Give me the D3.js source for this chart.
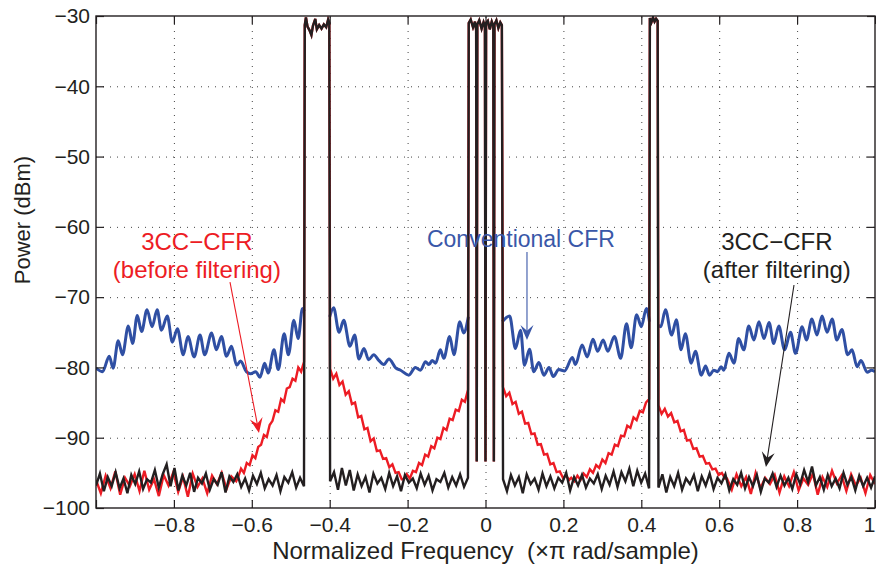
<!DOCTYPE html>
<html>
<head>
<meta charset="utf-8">
<script src="https://cdn.jsdelivr.net/npm/d3@7"></script>
<style>
body { margin: 0; background: #fff; }
svg { font-family: "Liberation Sans", Arial, sans-serif; }
</style>
</head>
<body>
<div id="chart"></div>
<script>
// axes
const xTicks = [-1, -0.8, -0.6, -0.4, -0.2, 0, 0.2, 0.4, 0.6, 0.8, 1];
const xTickLabels = ["", "−0.8", "−0.6", "−0.4", "−0.2", "0", "0.2", "0.4", "0.6", "0.8", "1"];
const yTicks = [-100, -90, -80, -70, -60, -50, -40, -30];
const yTickLabels = ["−100", "−90", "−80", "−70", "−60", "−50", "−40", "−30"];

// carriers (shared by the filtered spectra) [freq, dBm]
const carrierLeft = [[-0.464,-31.3],[-0.461,-30.2],[-0.457,-31.5],[-0.452,-32.0],[-0.447,-32.7],[-0.443,-31.4],[-0.437,-30.4],[-0.433,-31.9],[-0.427,-31.3],[-0.421,-31.8],[-0.415,-31.2],[-0.409,-31.6],[-0.404,-30.5],[-0.401,-31.0]];
const carrierCenter = [[-0.043,-31.0],[-0.038,-30.5],[-0.032,-31.6],[-0.027,-30.8],[-0.024,-32.0],[-0.0225,-93.4],[-0.021,-31.2],[-0.016,-30.6],[-0.010,-31.8],[-0.005,-30.9],[-0.0015,-31.5],[0.0,-93.4],[0.0015,-31.0],[0.006,-30.7],[0.011,-31.9],[0.016,-30.8],[0.020,-31.4],[0.0215,-93.4],[0.023,-31.2],[0.028,-30.6],[0.033,-31.7],[0.038,-30.9],[0.042,-31.3]];
const carrierRight = [[0.422,-30.3],[0.426,-30.9],[0.430,-30.2],[0.434,-30.8],[0.438,-30.4],[0.442,-30.7]];

// 3CC-CFR after filtering: noise floor pieces (evenly spaced between the given edges)
const floorA = [-96.8,-95.1,-97.6,-95.6,-96.9,-94.9,-97.2,-95.8,-97.9,-95.3,-96.6,-94.8,-97.3,-95.9,-96.4,-94.6,-97.1,-95.2,-93.8,-96.9,-94.3,-97.5,-95.4,-96.8,-95.0,-97.7,-95.7,-96.5,-95.1,-97.4,-95.9,-96.7,-94.9,-97.8,-95.5,-96.3,-95.2,-97.0,-95.8,-97.5,-95.4,-96.6,-95.0,-97.2,-95.9,-96.8,-95.3,-97.6,-95.6,-96.4,-94.9,-97.1,-95.7,-96.9];
const floorB = [-96.2,-94.9,-97.4,-94.3,-96.8,-94.6,-97.5,-95.2,-96.9,-95.6,-97.8,-95.1,-96.5,-95.7,-97.3,-95.0,-96.9,-95.5,-97.6,-95.3,-96.4,-95.8,-97.2,-95.1,-96.7,-95.4,-97.5,-95.9,-96.3,-95.0,-97.1,-95.6,-96.8,-95.2,-97.0,-95.7];
const floorC = [-95.9,-97.6,-95.3,-96.8,-95.6,-97.9,-95.2,-96.6,-95.8,-97.4,-95.1,-96.9,-95.5,-97.2,-95.7,-96.4,-95.0,-97.5,-95.6,-96.8,-95.3,-97.1,-95.8,-96.5,-95.2,-97.3,-95.4,-96.7,-94.8,-97.0,-94.9,-96.2,-94.4,-96.9,-94.7,-96.4,-95.1,-97.2];
const floorD = [-97.1,-95.2,-97.8,-95.6,-96.9,-95.0,-97.4,-95.8,-96.6,-95.3,-97.6,-95.5,-96.8,-95.1,-97.3,-95.7,-96.5,-95.2,-97.5,-95.9,-96.7,-95.0,-97.2,-95.6,-96.9,-95.3,-97.7,-95.8,-96.4,-95.1,-97.0,-95.4,-96.8,-95.7,-97.3,-95.2,-96.6,-94.6,-96.3,-94.1,-96.8,-95.6,-97.4,-95.3,-96.9,-95.8,-97.2,-95.0,-96.7,-95.6,-97.5,-95.4,-96.9,-95.7,-97.1,-95.5];

// 3CC-CFR before filtering: floor ends and regrowth skirts
const redFloorL = [-96.0,-97.9,-95.4,-97.2,-94.8,-98.1,-95.7,-96.9,-95.2,-97.6,-94.7,-97.4,-95.9,-98.3,-95.3,-96.8,-94.9,-97.7,-95.6,-98.4,-95.1,-97.0,-95.8,-97.9,-95.4,-96.6,-95.0,-97.3,-95.5,-96.2];
const redFloorR = [-95.8,-97.4,-95.2,-96.9,-95.6,-98.0,-95.0,-97.2,-95.7,-96.6,-95.3,-97.8,-95.5,-96.9,-94.9,-97.5,-95.8,-96.7,-95.1,-98.1,-95.6,-97.0,-94.7,-96.5,-95.4,-97.6,-95.2,-96.8,-95.7,-97.9,-95.3,-96.6];
const skirt1 = [-95.6,-94.4,-95.0,-93.6,-93.9,-92.5,-92.9,-91.3,-91.0,-89.6,-89.9,-88.2,-87.6,-86.1,-86.3,-84.5,-84.9,-83.0,-82.8,-81.6,-81.9,-80.0,-80.6,-79.2];
const skirt2 = [-80.2,-81.6,-80.9,-82.5,-82.0,-83.9,-83.4,-85.2,-85.0,-87.1,-86.9,-88.8,-88.6,-90.5,-90.1,-91.9,-91.8,-93.0,-92.9,-94.2,-93.8,-95.0,-94.9,-95.9];
const skirt3 = [-95.9,-95.2,-95.8,-94.7,-94.9,-93.6,-93.9,-92.4,-92.7,-91.2,-91.5,-90.0,-90.2,-88.6,-88.9,-87.3,-87.5,-86.0,-86.2,-84.6,-84.9,-83.2];
const skirt4 = [-82.8,-84.1,-83.6,-85.2,-84.9,-86.6,-86.3,-88.0,-87.9,-89.5,-89.4,-91.0,-90.9,-92.4,-92.3,-93.8,-93.6,-94.9,-94.8,-95.7,-95.4,-96.0];
const skirt5 = [-95.7,-96.2,-95.4,-96.0,-95.1,-95.6,-94.5,-95.0,-93.9,-94.3,-93.1,-93.6,-92.2,-92.4,-91.0,-91.2,-89.7,-89.8,-88.3,-88.6,-87.1,-87.5,-86.2,-86.4,-85.0,-84.5];
const skirt6 = [-85.4,-86.6,-85.9,-87.0,-86.5,-87.8,-87.6,-89.1,-88.9,-90.4,-90.3,-91.6,-91.5,-92.7,-92.6,-93.7,-93.6,-94.5,-94.4,-95.3,-95.0,-95.8];

// conventional CFR [freq, dBm], one piece between each pair of carriers
const blueA = [[-1.0,-80.1],[-0.983,-80.6],[-0.966,-78.4],[-0.956,-80.1],[-0.943,-76.2],[-0.932,-78.2],[-0.917,-74.1],[-0.906,-76.6],[-0.894,-72.6],[-0.883,-74.9],[-0.869,-71.8],[-0.856,-74.2],[-0.843,-71.8],[-0.832,-74.7],[-0.817,-72.7],[-0.804,-76.4],[-0.791,-74.5],[-0.776,-78.2],[-0.764,-75.6],[-0.748,-78.5],[-0.733,-75.4],[-0.721,-78.2],[-0.703,-75.1],[-0.691,-77.5],[-0.678,-75.6],[-0.665,-78.4],[-0.652,-77.0],[-0.639,-79.7],[-0.629,-79.1],[-0.614,-80.6],[-0.603,-80.9],[-0.590,-80.6],[-0.579,-81.4],[-0.567,-79.4],[-0.558,-80.8],[-0.543,-77.5],[-0.532,-80.3],[-0.517,-75.2],[-0.506,-78.2],[-0.492,-73.3],[-0.481,-75.9],[-0.470,-71.6],[-0.465,-72.0]];
const blueB = [[-0.400,-72.8],[-0.390,-71.5],[-0.376,-75.0],[-0.364,-73.3],[-0.348,-77.0],[-0.336,-75.4],[-0.325,-78.8],[-0.312,-77.3],[-0.300,-78.9],[-0.287,-78.2],[-0.274,-79.0],[-0.261,-79.6],[-0.248,-78.8],[-0.230,-80.1],[-0.218,-80.4],[-0.197,-81.1],[-0.180,-80.0],[-0.167,-80.4],[-0.154,-79.2],[-0.145,-79.6],[-0.137,-79.0],[-0.128,-79.4],[-0.116,-77.5],[-0.107,-78.7],[-0.092,-75.6],[-0.081,-78.2],[-0.066,-73.5],[-0.056,-75.1],[-0.044,-72.8]];
const blueC = [[0.043,-73.5],[0.062,-72.7],[0.077,-77.3],[0.090,-74.7],[0.100,-79.7],[0.113,-77.4],[0.124,-80.6],[0.137,-79.3],[0.150,-81.1],[0.163,-80.0],[0.174,-81.3],[0.188,-80.3],[0.203,-80.5],[0.223,-78.6],[0.231,-79.6],[0.248,-76.8],[0.261,-78.5],[0.276,-76.0],[0.288,-77.7],[0.302,-76.1],[0.314,-77.7],[0.331,-75.6],[0.347,-78.7],[0.362,-73.8],[0.374,-77.2],[0.388,-72.5],[0.400,-74.2],[0.413,-71.6],[0.421,-73.5]];
const blueD = [[0.443,-74.0],[0.450,-74.2],[0.462,-71.8],[0.478,-75.4],[0.490,-73.2],[0.502,-77.5],[0.513,-75.2],[0.528,-79.4],[0.539,-77.7],[0.554,-81.1],[0.565,-79.8],[0.575,-81.1],[0.586,-80.4],[0.596,-80.6],[0.605,-79.9],[0.612,-80.4],[0.625,-78.0],[0.638,-79.4],[0.650,-75.9],[0.663,-77.5],[0.676,-74.1],[0.689,-76.1],[0.702,-73.5],[0.715,-75.9],[0.728,-73.6],[0.740,-76.6],[0.753,-74.1],[0.768,-77.5],[0.783,-75.0],[0.796,-78.0],[0.813,-74.2],[0.824,-76.1],[0.838,-73.1],[0.851,-75.4],[0.864,-72.7],[0.877,-75.0],[0.890,-73.1],[0.902,-76.1],[0.915,-74.6],[0.930,-78.2],[0.941,-77.5],[0.954,-79.9],[0.964,-79.0],[0.980,-80.7],[0.991,-80.4],[1.0,-80.6]];

const blueColor = "#2f4fa3";
const redColor = "#ed1c24";
const blackColor = "#231f20";

const width = 876, height = 565;
const margin = {top: 16, right: 1, bottom: 57, left: 96};
const innerW = width - margin.left - margin.right;
const innerH = height - margin.top - margin.bottom;

const x = d3.scaleLinear().domain([-1, 1]).range([0, innerW]);
const y = d3.scaleLinear().domain([-100, -30]).range([innerH, 0]);

// spread typed values evenly between two frequencies
const spread = (f0, f1, vals) => vals.map((v, i) => [f0 + (f1 - f0) * i / (vals.length - 1), v]);

const conventional = [blueA, blueB, blueC, blueD];
const beforeFilt = [
  ...spread(-1, -0.64, redFloorL), ...spread(-0.635, -0.466, skirt1), ...carrierLeft,
  ...spread(-0.399, -0.215, skirt2), ...spread(-0.21, -0.045, skirt3), ...carrierCenter,
  ...spread(0.045, 0.215, skirt4), ...spread(0.22, 0.42, skirt5), ...carrierRight,
  ...spread(0.444, 0.615, skirt6), ...spread(0.62, 1, redFloorR)
];
const afterFilt = [
  ...spread(-1, -0.466, floorA), ...carrierLeft, ...spread(-0.399, -0.045, floorB), ...carrierCenter,
  ...spread(0.045, 0.420, floorC), ...carrierRight, ...spread(0.444, 1, floorD)
];

const svg = d3.select("#chart").append("svg")
  .attr("width", width).attr("height", height);
const g = svg.append("g").attr("transform", `translate(${margin.left},${margin.top})`);

// grid
const gridX = g.append("g").attr("transform", `translate(0,${innerH})`)
  .call(d3.axisBottom(x).tickValues(xTicks.slice(1, -1)).tickSize(-innerH).tickFormat(""));
const gridY = g.append("g")
  .call(d3.axisLeft(y).tickValues(yTicks.slice(1, -1)).tickSize(-innerW).tickFormat(""));
[gridX, gridY].forEach(s => {
  s.select(".domain").remove();
  s.selectAll("line").attr("stroke", "#444").attr("stroke-width", 1).attr("stroke-dasharray", "1,6");
});

// spectra
svg.append("defs").append("clipPath").attr("id", "clip")
  .append("rect").attr("width", innerW).attr("height", innerH);
const plot = g.append("g").attr("clip-path", "url(#clip)");

const blueLine = d3.line().x(d => x(d[0])).y(d => y(d[1])).curve(d3.curveMonotoneX);
plot.selectAll("path.conv").data(conventional).join("path")
  .attr("class", "conv")
  .attr("fill", "none").attr("stroke", blueColor).attr("stroke-width", 3).attr("stroke-linejoin", "round")
  .attr("d", blueLine);
plot.append("path").datum(beforeFilt)
  .attr("fill", "none").attr("stroke", redColor).attr("stroke-width", 2.4)
  .attr("d", d3.line().x(d => x(d[0])).y(d => y(d[1])));
plot.append("path").datum(afterFilt)
  .attr("fill", "none").attr("stroke", blackColor).attr("stroke-width", 2.4)
  .attr("d", d3.line().x(d => x(d[0])).y(d => y(d[1])));

// axes with inside ticks on all four sides
const tickLen = 8;
const styleAxis = s => {
  s.select(".domain").remove();
  s.selectAll("line").attr("stroke", blackColor).attr("stroke-width", 1.2);
  s.selectAll("text").attr("fill", blackColor).style("font-size", "21px");
};
const xAxisG = g.append("g").attr("transform", `translate(0,${innerH})`)
  .call(d3.axisBottom(x).tickValues(xTicks).tickSize(-tickLen).tickPadding(9.5)
    .tickFormat((d, i) => xTickLabels[i]))
  .call(styleAxis);
// keep the last label inside the page
xAxisG.selectAll(".tick text").filter(d => d === 1).attr("dx", -6);
g.append("g")
  .call(d3.axisTop(x).tickValues(xTicks).tickSize(-tickLen).tickFormat(""))
  .call(styleAxis);
g.append("g")
  .call(d3.axisLeft(y).tickValues(yTicks).tickSize(-tickLen).tickPadding(6)
    .tickFormat((d, i) => yTickLabels[i]))
  .call(styleAxis);
g.append("g").attr("transform", `translate(${innerW},0)`)
  .call(d3.axisRight(y).tickValues(yTicks).tickSize(-tickLen).tickFormat(""))
  .call(styleAxis);

g.append("rect").attr("width", innerW).attr("height", innerH)
  .attr("fill", "none").attr("stroke", blackColor).attr("stroke-width", 1.4);

// axis titles
svg.append("text")
  .attr("x", margin.left + x(0)).attr("y", 559)
  .attr("text-anchor", "middle").style("font-size", "24px").style("white-space", "pre")
  .attr("fill", blackColor)
  .text("Normalized Frequency  (×π rad/sample)");
svg.append("text")
  .attr("transform", "translate(30,220) rotate(-90)")
  .attr("text-anchor", "middle").style("font-size", "22px")
  .attr("fill", blackColor)
  .text("Power (dBm)");

// annotations
const notes = [
  {lines: ["Conventional CFR"], f: 0.091, v: -62.87, color: "#3a57a8", size: 23},
  {lines: ["3CC−CFR", "(before filtering)"], f: -0.741, v: -63.29, color: redColor, size: 24},
  {lines: ["3CC−CFR", "(after filtering)"], f: 0.748, v: -63.29, color: blackColor, size: 24}
];
const arrows = [
  {from: [0.1065, -63.58], to: [0.1065, -76.1], color: "#3a57a8"},
  {from: [-0.656, -67.85], to: [-0.5815, -89.33], color: redColor},
  {from: [0.792, -68.27], to: [0.720, -94.17], color: blackColor}
];

notes.forEach(n => {
  const t = g.append("text")
    .attr("x", x(n.f)).attr("y", y(n.v))
    .attr("text-anchor", "middle").attr("fill", n.color).style("font-size", n.size + "px");
  n.lines.forEach((l, i) => t.append("tspan").attr("x", x(n.f)).attr("dy", i ? 28 : 0).text(l));
});

arrows.forEach(a => {
  const x0 = x(a.from[0]), y0 = y(a.from[1]), x1 = x(a.to[0]), y1 = y(a.to[1]);
  const ang = Math.atan2(y1 - y0, x1 - x0);
  const L = 15, W = 6.5;
  const ux = Math.cos(ang), uy = Math.sin(ang);
  const pt = (back, side) => [x1 - ux * back - uy * side, y1 - uy * back + ux * side];
  g.append("line")
    .attr("x1", x0).attr("y1", y0).attr("x2", pt(8, 0)[0]).attr("y2", pt(8, 0)[1])
    .attr("stroke", a.color).attr("stroke-width", 1.1);
  g.append("path")
    .attr("d", d3.line()([pt(0, 0), pt(L, W), pt(L * 0.62, 0), pt(L, -W)]) + "Z")
    .attr("fill", a.color);
});
</script>
</body>
</html>
